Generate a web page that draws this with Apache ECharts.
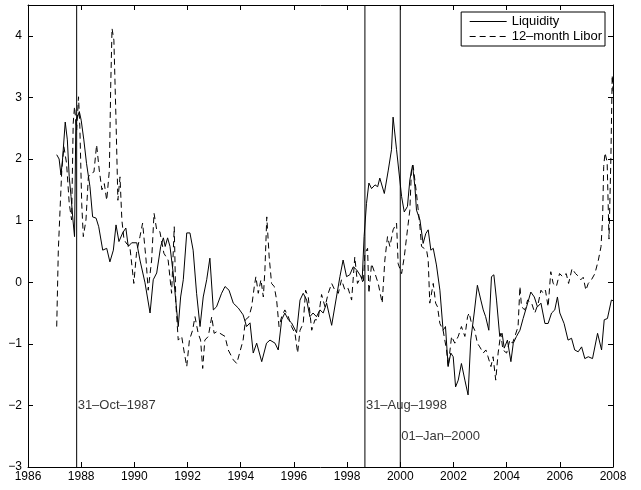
<!DOCTYPE html>
<html><head><meta charset="utf-8">
<script src="https://cdn.jsdelivr.net/npm/echarts@6/dist/echarts.min.js"></script>
<style>html,body{margin:0;padding:0;background:#fff}#c{width:641px;height:490px}</style>
</head><body><div id="c"></div>
<script>
const liqX = [1987.08,1987.17,1987.24,1987.30,1987.40,1987.48,1987.55,1987.62,1987.69,1987.75,1987.80,1987.87,1987.93,1988.00,1988.10,1988.20,1988.33,1988.43,1988.56,1988.66,1988.81,1988.96,1989.08,1989.21,1989.31,1989.42,1989.56,1989.68,1989.77,1989.90,1990.09,1990.21,1990.40,1990.59,1990.71,1990.84,1990.99,1991.09,1991.16,1991.25,1991.34,1991.46,1991.59,1991.65,1991.74,1991.84,1991.97,1992.09,1992.21,1992.34,1992.47,1992.59,1992.72,1992.84,1992.97,1993.09,1993.28,1993.41,1993.56,1993.72,1993.91,1994.09,1994.22,1994.35,1994.47,1994.60,1994.79,1994.97,1995.10,1995.29,1995.41,1995.54,1995.66,1995.79,1995.91,1996.10,1996.23,1996.35,1996.48,1996.60,1996.72,1996.85,1996.98,1997.10,1997.23,1997.42,1997.60,1997.73,1997.85,1997.98,1998.10,1998.23,1998.36,1998.48,1998.57,1998.64,1998.73,1998.82,1998.92,1999.05,1999.15,1999.23,1999.40,1999.55,1999.67,1999.73,1999.86,2000.05,2000.15,2000.27,2000.36,2000.46,2000.55,2000.61,2000.74,2000.86,2000.96,2001.05,2001.15,2001.24,2001.36,2001.49,2001.61,2001.70,2001.80,2001.90,2001.99,2002.08,2002.18,2002.30,2002.43,2002.55,2002.65,2002.78,2002.90,2003.03,2003.12,2003.21,2003.33,2003.43,2003.52,2003.62,2003.74,2003.83,2003.91,2004.03,2004.16,2004.25,2004.37,2004.50,2004.62,2004.75,2004.91,2005.04,2005.16,2005.29,2005.44,2005.56,2005.69,2005.81,2005.91,2006.00,2006.16,2006.31,2006.44,2006.56,2006.69,2006.82,2006.94,2007.07,2007.23,2007.42,2007.57,2007.67,2007.79,2007.94,2008.00];
const liqY = [2.07,2.0,1.74,2.0,2.6,2.31,1.71,1.39,1.01,0.74,2.63,2.69,2.77,2.63,2.31,1.93,1.55,1.06,1.04,0.90,0.52,0.55,0.33,0.52,0.93,0.66,0.80,0.88,0.58,0.64,0.64,0.36,-0.01,-0.50,0.04,0.15,0.58,0.72,0.58,0.72,0.58,0.15,-0.45,-0.72,-0.24,0.04,0.80,0.80,0.52,-0.18,-0.72,-0.24,0.04,0.39,-0.45,-0.40,-0.18,-0.07,-0.13,-0.34,-0.42,-0.53,-0.72,-0.66,-1.15,-0.99,-1.29,-0.99,-0.94,-0.99,-1.10,-0.61,-0.50,-0.61,-0.66,-0.82,-0.29,-0.18,-0.29,-0.56,-0.50,-0.56,-0.45,-0.50,-0.34,-0.70,-0.24,0.09,0.36,0.09,0.12,0.25,0.20,0.12,0.06,0.74,1.28,1.61,1.52,1.58,1.55,1.69,1.44,1.82,2.15,2.68,2.15,1.39,1.14,1.23,1.66,1.90,1.55,1.17,1.01,0.63,0.79,0.85,0.52,0.55,0.28,-0.13,-0.78,-0.72,-1.37,-1.15,-1.21,-1.70,-1.59,-1.32,-1.59,-1.83,-0.94,-0.50,-0.05,-0.29,-0.45,-0.56,-0.78,0.09,0.12,-0.29,-0.88,-0.83,-1.07,-0.94,-1.29,-0.99,-0.88,-0.78,-0.59,-0.40,-0.16,-0.24,-0.40,-0.34,-0.67,-0.67,-0.50,-0.45,-0.24,-0.50,-0.67,-0.94,-0.91,-1.10,-1.13,-1.05,-1.24,-1.21,-1.24,-0.83,-1.10,-0.61,-0.59,-0.29,-0.30];
const liborX = [1987.08,1987.14,1987.27,1987.35,1987.45,1987.55,1987.64,1987.70,1987.75,1987.83,1987.90,1987.95,1988.02,1988.08,1988.18,1988.27,1988.39,1988.48,1988.58,1988.68,1988.78,1988.87,1988.96,1989.06,1989.11,1989.16,1989.23,1989.31,1989.38,1989.46,1989.53,1989.61,1989.72,1989.83,1989.98,1990.08,1990.21,1990.31,1990.44,1990.52,1990.65,1990.74,1990.84,1990.96,1991.11,1991.27,1991.40,1991.50,1991.56,1991.65,1991.78,1991.86,1991.97,1992.07,1992.19,1992.28,1992.40,1992.49,1992.57,1992.65,1992.78,1992.91,1993.00,1993.11,1993.22,1993.41,1993.53,1993.59,1993.72,1993.85,1993.97,1994.09,1994.18,1994.31,1994.41,1994.51,1994.57,1994.66,1994.76,1994.85,1994.91,1994.98,1995.07,1995.16,1995.26,1995.35,1995.44,1995.54,1995.66,1995.79,1995.91,1996.04,1996.14,1996.23,1996.35,1996.44,1996.54,1996.67,1996.79,1996.91,1997.04,1997.17,1997.29,1997.42,1997.54,1997.67,1997.79,1997.92,1998.04,1998.17,1998.29,1998.39,1998.52,1998.61,1998.67,1998.77,1998.82,1998.92,1999.05,1999.17,1999.32,1999.42,1999.52,1999.61,1999.73,1999.86,1999.92,2000.05,2000.15,2000.27,2000.36,2000.42,2000.48,2000.61,2000.74,2000.80,2000.99,2001.05,2001.11,2001.24,2001.33,2001.40,2001.49,2001.61,2001.74,2001.80,2001.93,2002.05,2002.18,2002.30,2002.43,2002.53,2002.59,2002.68,2002.80,2002.90,2002.99,2003.12,2003.22,2003.30,2003.41,2003.49,2003.59,2003.68,2003.78,2003.86,2004.00,2004.12,2004.22,2004.31,2004.43,2004.50,2004.56,2004.68,2004.79,2004.94,2005.06,2005.19,2005.29,2005.38,2005.46,2005.56,2005.66,2005.75,2005.87,2005.99,2006.11,2006.24,2006.33,2006.46,2006.59,2006.69,2006.79,2006.88,2006.98,2007.07,2007.19,2007.32,2007.45,2007.55,2007.61,2007.65,2007.70,2007.78,2007.85,2007.92,2007.97,2008.00];
const liborY = [-0.72,0.52,1.82,2.20,1.93,1.28,1.01,2.58,2.85,2.47,3.01,2.52,1.28,0.74,1.01,1.71,1.77,1.79,2.23,1.82,1.50,1.60,1.33,1.82,3.17,4.12,3.93,2.63,1.33,1.71,1.01,0.69,0.62,0.58,-0.02,0.47,0.74,0.96,0.36,-0.13,0.36,1.12,0.85,0.82,0.47,0.36,-0.18,0.90,-0.34,-0.94,-0.88,-1.10,-1.37,-0.94,-0.78,-0.56,-0.83,-0.94,-1.40,-0.94,-0.88,-0.56,-0.83,-0.80,-0.83,-0.88,-1.10,-1.15,-1.26,-1.32,-1.13,-0.94,-0.61,-0.56,-0.40,-0.07,0.09,-0.18,0.04,-0.24,0.20,1.06,0.41,-0.02,-0.07,-0.29,-0.72,-0.56,-0.45,-0.56,-0.72,-0.83,-1.15,-0.78,-0.67,-0.13,-0.24,-0.78,-0.61,-0.61,-0.20,-0.40,-0.18,-0.02,-0.13,-0.18,0.04,-0.13,-0.10,-0.29,0.41,-0.02,0.09,-0.02,0.47,0.55,-0.18,0.30,0.14,-0.02,-0.34,0.36,0.74,0.58,0.85,0.96,0.30,0.14,0.41,0.85,1.17,1.82,1.90,1.44,0.90,0.58,0.52,0.36,-0.34,-0.02,-0.34,-0.40,-0.67,-0.78,-1.10,-1.37,-0.88,-0.99,-0.88,-0.72,-0.88,-0.56,-0.50,-0.67,-0.78,-0.99,-1.05,-1.15,-1.10,-1.21,-1.37,-1.21,-1.59,-1.15,-0.83,-1.10,-1.15,-0.94,-0.99,-0.88,-0.72,-0.07,-0.40,-0.45,-0.29,-0.34,-0.50,-0.34,-0.13,-0.18,-0.13,-0.40,0.17,-0.02,-0.07,0.14,0.09,0.14,-0.02,0.22,0.14,0.10,0.04,0.08,-0.13,-0.02,0.04,0.14,0.36,0.58,1.06,1.88,2.10,1.95,0.70,2.00,3.36,3.10];
const eventDates = [1987.83, 1998.67, 2000.0];
const eventLabels = ['31–Oct–1987', '31–Aug–1998', '01–Jan–2000'];
const eventLabelY = [-2.0, -2.0, -2.5];
const seriesNames = ['Liquidity', '12–month Libor'];
const xMin = 1986, xMax = 2008, yMin = -3, yMax = 4.5;

const zip = (a, b) => a.map((v, i) => [v, b[i]]);
const FONT = 'Liberation Sans, Arial, Helvetica, sans-serif';
const axisCommon = {
  axisLine: {show: true, onZero: false, lineStyle: {color: '#000', width: 1}},
  axisTick: {show: true, inside: true, length: 5, lineStyle: {color: '#000'}},
  splitLine: {show: false}
};
const series = [
  {name: seriesNames[0], type: 'line', data: zip(liqX, liqY), symbol: 'none', lineStyle: {color: '#000', width: 1}, itemStyle: {color: '#000'}, z: 3},
  {name: seriesNames[1], type: 'line', data: zip(liborX, liborY), symbol: 'none', lineStyle: {color: '#000', width: 1, type: [6, 4]}, itemStyle: {color: '#000'}, z: 3}
];
eventDates.forEach((d, i) => {
  series.push({type: 'line', data: [[d, yMin], [d, yMax]], symbol: 'none', lineStyle: {color: '#000', width: 1}, silent: true, z: 2});
  series.push({type: 'scatter', data: [[d, eventLabelY[i]]], symbolSize: 0, silent: true,
    label: {show: true, formatter: eventLabels[i], position: [1, 0], align: 'left', verticalAlign: 'middle', color: '#000', fontSize: 13, fontFamily: FONT}});
});
const chart = echarts.init(document.getElementById('c'), null, {renderer: 'canvas'});
chart.setOption({
  animation: false,
  backgroundColor: '#fff',
  grid: {left: 28, right: 28, top: 5, bottom: 23, containLabel: false},
  legend: {
    data: seriesNames, orient: 'vertical', right: 36, top: 12,
    backgroundColor: '#fff', borderColor: '#000', borderWidth: 1,
    padding: [3, 3, 3, 8], itemGap: 2, itemWidth: 37, itemHeight: 14,
    itemStyle: {opacity: 0, borderWidth: 0},
    lineStyle: {width: 1},
    textStyle: {fontSize: 13, fontFamily: FONT, color: '#000'}
  },
  xAxis: [
    Object.assign({type: 'value', min: xMin, max: xMax, interval: 2, position: 'bottom',
      axisLabel: {color: '#000', fontSize: 12, fontFamily: FONT, margin: 4, formatter: v => String(v)}}, axisCommon),
    Object.assign({type: 'value', min: xMin, max: xMax, interval: 2, position: 'top',
      axisLabel: {show: false}}, axisCommon)
  ],
  yAxis: [
    Object.assign({type: 'value', min: yMin, max: yMax, interval: 1, position: 'left',
      axisLabel: {color: '#000', fontSize: 12, fontFamily: FONT, margin: 6,
        formatter: v => Number.isInteger(v) ? String(v).replace('-', '−') : ''}}, axisCommon),
    Object.assign({type: 'value', min: yMin, max: yMax, interval: 1, position: 'right',
      axisLabel: {show: false}}, axisCommon)
  ],
  series: series
});
</script></body></html>
